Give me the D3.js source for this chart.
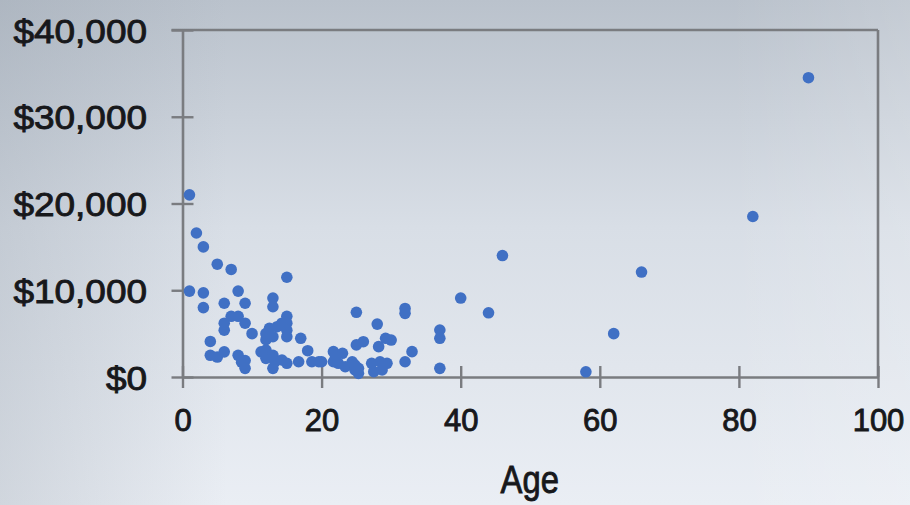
<!DOCTYPE html>
<html>
<head>
<meta charset="utf-8">
<script src="https://cdn.jsdelivr.net/npm/d3@7"></script>
<style>
  html, body { margin: 0; padding: 0; overflow: hidden; }
  svg { display: block; }
</style>
</head>
<body>
<svg id="chart" width="910" height="505"></svg>
<script>
// Patient age and cost of care, one entry per person
const ages = [
  1, 1, 2, 3, 3, 3, 4, 4, 5, 5,
  6, 6, 6, 6, 7, 7, 8, 8, 8, 8.5,
  9, 9, 9, 9, 10, 11.3, 12, 12, 12, 12,
  12.5, 13, 13, 13, 13, 13, 13.3, 13.6, 14.3, 14.3,
  15, 15, 15, 15, 15, 15, 16.7, 17, 18, 18.6,
  19.6, 20, 21.7, 21.7, 22, 22.4, 23, 23.4, 24.4, 24.8,
  24.8, 25, 25, 25.3, 25.3, 26, 27.2, 27.5, 28, 28.2,
  28.4, 28.7, 29.2, 29.4, 30, 32, 32, 32, 33, 37,
  37, 37, 40, 44, 46, 58, 62, 66, 82, 90
];
const costs = [
  21000, 9900, 16600, 15000, 9700, 8000, 4100, 2500, 13000, 2300,
  8500, 6200, 5400, 2900, 12400, 7000, 9900, 7000, 2500, 1700,
  8500, 6200, 1900, 1000, 5000, 2900, 5000, 4300, 3100, 2150,
  5600, 9100, 8100, 4650, 2500, 1000, 1760, 5800, 6200, 1960,
  11500, 7000, 6200, 5400, 4650, 1580, 1760, 4460, 3030, 1760,
  1760, 1760, 2920, 1760, 2300, 1580, 2730, 1190, 1760, 810,
  1380, 7460, 3700, 420, 1000, 4070, 1580, 610, 6100, 3500,
  1760, 810, 4460, 1580, 4260, 7900, 7340, 1760, 2920, 5420,
  4460, 1000, 9100, 7400, 14000, 600, 5000, 12100, 18500, 34500
];
const xTicks = [0, 20, 40, 60, 80, 100];
const yTicks = [0, 10000, 20000, 30000, 40000];
const xTitle = "Age";

const svg = d3.select("#chart");
const W = 910, H = 505;
const plotLeft = 182.5, plotRight = 878, plotTop = 30, plotBottom = 377;

// Soft slide-style backdrop
const defs = svg.append("defs");
const bg = defs.append("linearGradient").attr("id", "bg")
  .attr("x1", 0).attr("y1", 0).attr("x2", 0).attr("y2", 1);
bg.append("stop").attr("offset", 0).attr("stop-color", "#bac2cc");
bg.append("stop").attr("offset", 0.45).attr("stop-color", "#d8dee6");
bg.append("stop").attr("offset", 1).attr("stop-color", "#eaeef4");
const side = defs.append("linearGradient").attr("id", "side")
  .attr("x1", 0).attr("y1", 0).attr("x2", 1).attr("y2", 0);
side.append("stop").attr("offset", 0).attr("stop-color", "#8f99a5").attr("stop-opacity", 0.28);
side.append("stop").attr("offset", 0.25).attr("stop-color", "#8f99a5").attr("stop-opacity", 0.0);
side.append("stop").attr("offset", 0.8).attr("stop-color", "#ffffff").attr("stop-opacity", 0.0);
side.append("stop").attr("offset", 1).attr("stop-color", "#ffffff").attr("stop-opacity", 0.15);
// Blur region covers the whole canvas so straight lines keep their softening
const soft = defs.append("filter").attr("id", "soft")
  .attr("filterUnits", "userSpaceOnUse")
  .attr("x", -50).attr("y", -50).attr("width", W + 100).attr("height", H + 100);
soft.append("feGaussianBlur").attr("stdDeviation", 0.5);

svg.append("rect").attr("width", W).attr("height", H).attr("fill", "url(#bg)");
svg.append("rect").attr("width", W).attr("height", H).attr("fill", "url(#side)");

const x = d3.scaleLinear().domain([0, 100]).range([plotLeft, plotRight]);
const y = d3.scaleLinear().domain([0, 40000]).range([plotBottom, plotTop]);

const axisColor = "#7a7c80";
const tick = 11;
const fmt = d => "$" + d3.format(",")(d);
const textColor = "#17181b";

// Frame: top and right edges
const frame = svg.append("g").attr("filter", "url(#soft)");
frame.append("line").attr("x1", x(0) - tick).attr("x2", x(100)).attr("y1", y(40000)).attr("y2", y(40000))
  .attr("stroke", axisColor).attr("stroke-width", 2.6);
frame.append("line").attr("x1", x(100)).attr("x2", x(100)).attr("y1", y(40000)).attr("y2", y(0))
  .attr("stroke", axisColor).attr("stroke-width", 2.6);

// Y axis
const gy = svg.append("g").attr("transform", `translate(${plotLeft},0)`)
  .call(d3.axisLeft(y).tickValues(yTicks).tickFormat(fmt).tickSize(tick).tickSizeOuter(0).tickPadding(24.5));
// X axis
const gx = svg.append("g").attr("transform", `translate(0,${plotBottom})`)
  .call(d3.axisBottom(x).tickValues(xTicks).tickSize(tick).tickSizeOuter(0).tickPadding(21));

[gy, gx].forEach(g => {
  g.select(".domain").attr("stroke", axisColor).attr("stroke-width", 2.6).attr("filter", "url(#soft)");
  g.selectAll(".tick line").attr("stroke", axisColor).attr("stroke-width", 2.4).attr("filter", "url(#soft)");
});
// Ticks cross the axis line
gy.selectAll(".tick line").attr("x1", tick);
gx.selectAll(".tick line").attr("y1", -tick);

gy.selectAll(".tick text")
  .attr("font-family", "'Liberation Sans', Arial, sans-serif")
  .attr("font-size", 33).attr("fill", textColor)
  .attr("stroke", textColor).attr("stroke-width", 0.9)
  .attr("dy", "0.37em")
  .each(function () {
    const w = this.getComputedTextLength();
    d3.select(this).attr("textLength", w * 1.12).attr("lengthAdjust", "spacingAndGlyphs");
  });

gx.selectAll(".tick text")
  .attr("font-family", "'Liberation Sans', Arial, sans-serif")
  .attr("font-size", 31).attr("fill", textColor)
  .attr("stroke", textColor).attr("stroke-width", 0.9);

const title = svg.append("text")
  .attr("x", x(50) - 0.5).attr("y", 493)
  .attr("text-anchor", "middle")
  .attr("font-family", "'Liberation Sans', Arial, sans-serif")
  .attr("font-size", 39).attr("fill", textColor)
  .attr("stroke", textColor).attr("stroke-width", 0.9)
  .text(xTitle);
title.attr("textLength", title.node().getComputedTextLength() * 0.84).attr("lengthAdjust", "spacingAndGlyphs");

// Points
svg.append("g").attr("filter", "url(#soft)")
  .selectAll("circle")
  .data(ages.map((a, i) => ({ age: a, cost: costs[i] })))
  .join("circle")
  .attr("cx", d => x(d.age))
  .attr("cy", d => y(d.cost))
  .attr("r", 5.8)
  .attr("fill", "#4170c4");
</script>
</body>
</html>
